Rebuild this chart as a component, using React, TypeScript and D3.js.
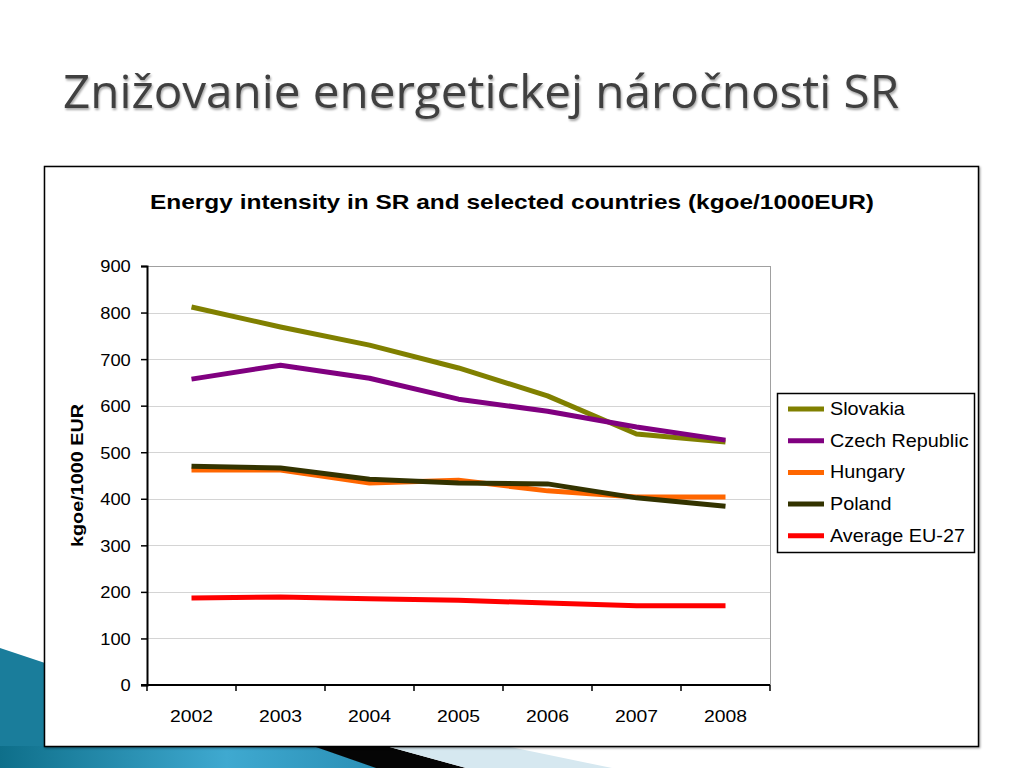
import React, { useEffect, useRef } from 'react';
import * as d3 from 'd3';

const years = ['2002', '2003', '2004', '2005', '2006', '2007', '2008'];
const countries = ['Slovakia', 'Czech Republic', 'Hungary', 'Poland', 'Average EU-27'];
const colors = ['#808000', '#800080', '#ff6600', '#333300', '#ff0000'];
const slovakia = [812, 769, 730, 681, 621, 539, 522];
const czech = [657, 687, 659, 614, 588, 554, 526];
const hungary = [462, 462, 434, 440, 417, 404, 404];
const poland = [470, 466, 442, 434, 432, 402, 384];
const eu27 = [187, 189, 185, 182, 176, 170, 170];
const yTicks = [0, 100, 200, 300, 400, 500, 600, 700, 800, 900];

const FONT = '"Liberation Sans", Arial, sans-serif';

const App = () => {
  const ref = useRef(null);

  useEffect(() => {
    draw();
  }, []);

  const draw = () => {
    d3.select(ref.current).select('svg').remove();
    const svg = d3.select(ref.current).append('svg')
      .attr('width', 1024).attr('height', 768)
      .style('display', 'block');

    svg.append('rect').attr('width', 1024).attr('height', 768).attr('fill', '#ffffff');

    // slide decoration bottom-left
    const grad = svg.append('defs').append('linearGradient').attr('id', 'blue').attr('x1', 0).attr('x2', 1).attr('y1', 0).attr('y2', 0);
    grad.append('stop').attr('offset', '0%').attr('stop-color', '#0e6f8a');
    grad.append('stop').attr('offset', '60%').attr('stop-color', '#3fa9d0');
    grad.append('stop').attr('offset', '100%').attr('stop-color', '#2a8fb5');
    svg.append('polygon').attr('points', '0,648 60,668 60,768 0,768').attr('fill', '#1a7d9b');
    svg.append('polygon').attr('points', '0,746 315,746 378,768 0,768').attr('fill', 'url(#blue)');
    svg.append('polygon').attr('points', '313,746 386,746 466,768 376,768').attr('fill', '#050505');
    svg.append('polygon').attr('points', '386,746 505,746 612,768 466,768').attr('fill', '#d6e8f0');

    // title
    svg.append('text').attr('x', 63).attr('y', 108)
      .attr('font-family', '"Open Sans", sans-serif').attr('font-size', 46)
      .attr('fill', '#404040')
      .attr('textLength', 836).attr('lengthAdjust', 'spacingAndGlyphs')
      .style('filter', 'drop-shadow(1px 2px 1px rgba(0,0,0,0.35))')
      .text('Znižovanie energetickej náročnosti SR');

    // chart box
    svg.append('rect').attr('x', 44.5).attr('y', 166.5).attr('width', 934).attr('height', 580)
      .attr('fill', '#ffffff').attr('stroke', '#000').attr('stroke-width', 1.5)
      .style('filter', 'drop-shadow(1px 1px 1px rgba(0,0,0,0.4))');

    svg.append('text').attr('x', 150).attr('y', 209)
      .attr('font-family', FONT).attr('font-size', 21).attr('font-weight', 'bold')
      .attr('textLength', 724).attr('lengthAdjust', 'spacingAndGlyphs')
      .text('Energy intensity in SR and selected countries (kgoe/1000EUR)');

    const left = 147, right = 770, top = 266, bottom = 685;
    const x = d3.scaleBand().domain(years).range([left, right]);
    const y = d3.scaleLinear().domain([0, 900]).range([bottom, top]);

    // gridlines
    svg.append('g').selectAll('line').data(yTicks.slice(1)).enter().append('line')
      .attr('x1', left).attr('x2', right)
      .attr('y1', (d) => Math.round(y(d)) + 0.5).attr('y2', (d) => Math.round(y(d)) + 0.5)
      .attr('stroke', '#d4d4d4').attr('stroke-width', 1);
    svg.append('line').attr('x1', right + 0.5).attr('x2', right + 0.5).attr('y1', top).attr('y2', bottom)
      .attr('stroke', '#a0a0a0');
    svg.append('line').attr('x1', left).attr('x2', right).attr('y1', top + 0.5).attr('y2', top + 0.5)
      .attr('stroke', '#a0a0a0');

    // y axis
    const yAxis = svg.append('g').attr('transform', `translate(${left},0)`)
      .call(d3.axisLeft(y).tickValues(yTicks).tickSize(6).tickPadding(9));
    yAxis.select('.domain').attr('stroke', '#000').attr('stroke-width', 2);
    yAxis.selectAll('line').attr('stroke-width', 1.5);
    yAxis.selectAll('text').attr('font-family', FONT).attr('font-size', 17).attr('fill', '#000')
      .attr('transform', 'scale(1.08,1)').attr('dy', '0.35em');
    yAxis.selectAll('.tick text').attr('x', -17 / 1.08 * 0 - 15);

    // x axis
    const xAxis = svg.append('g').attr('transform', `translate(0,${bottom})`);
    xAxis.append('line').attr('x1', left - 6).attr('x2', right).attr('y1', 0).attr('y2', 0)
      .attr('stroke', '#000').attr('stroke-width', 2);
    const edges = years.map((d) => x(d)).concat([right]);
    xAxis.selectAll('.tk').data(edges).enter().append('line').attr('class', 'tk')
      .attr('x1', (d) => d).attr('x2', (d) => d).attr('y1', 0).attr('y2', 6)
      .attr('stroke', '#000').attr('stroke-width', 1.5);
    xAxis.selectAll('.lb').data(years).enter().append('text').attr('class', 'lb')
      .attr('x', (d) => x(d) + x.bandwidth() / 2).attr('y', 37).attr('text-anchor', 'middle')
      .attr('font-family', FONT).attr('font-size', 17)
      .attr('textLength', 43).attr('lengthAdjust', 'spacingAndGlyphs')
      .text((d) => d);

    svg.append('text').attr('transform', `translate(83,${(top + bottom) / 2}) rotate(-90)`)
      .attr('text-anchor', 'middle')
      .attr('font-family', FONT).attr('font-size', 17).attr('font-weight', 'bold')
      .attr('textLength', 143).attr('lengthAdjust', 'spacingAndGlyphs')
      .text('kgoe/1000 EUR');

    // lines
    const series = [slovakia, czech, hungary, poland, eu27];
    const line = d3.line<number>()
      .x((d, i) => x(years[i]) + x.bandwidth() / 2)
      .y((d) => y(d));
    [2, 3, 0, 1, 4].forEach((k) => {
      svg.append('path').datum(series[k]).attr('d', line)
        .attr('fill', 'none').attr('stroke', colors[k]).attr('stroke-width', 5)
        .attr('stroke-linejoin', 'round');
    });

    // legend
    const lg = svg.append('g');
    lg.append('rect').attr('x', 777.5).attr('y', 393.5).attr('width', 197).attr('height', 159)
      .attr('fill', '#fff').attr('stroke', '#000').attr('stroke-width', 1.5);
    countries.forEach((c, i) => {
      const cy = 409 + i * 31.7;
      lg.append('line').attr('x1', 788).attr('x2', 824).attr('y1', cy).attr('y2', cy)
        .attr('stroke', colors[i]).attr('stroke-width', 5);
      lg.append('text').attr('x', 830).attr('y', cy + 6)
        .attr('font-family', FONT).attr('font-size', 18)
        .attr('transform', `translate(${830 * -0.1},0) scale(1.1,1)`)
        .text(c);
    });
  };

  return <div ref={ref} style={{ position: 'absolute', left: 0, top: 0 }}></div>;
};

export default App;
